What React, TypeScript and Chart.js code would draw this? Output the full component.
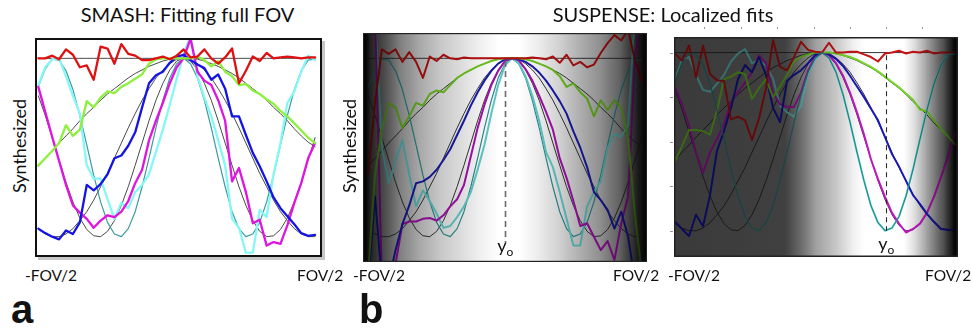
import React, { useEffect, useRef } from 'react';
import { Chart, registerables } from 'chart.js';

Chart.register(...registerables);

// Position across the field of view (FOV units, 0 = peak of the harmonics)
const xs = [-0.525, -0.5, -0.475, -0.45, -0.425, -0.4, -0.375, -0.35, -0.325, -0.3, -0.275, -0.25, -0.225, -0.2, -0.175, -0.15, -0.125, -0.1, -0.075, -0.05, -0.025, 0, 0.025, 0.05, 0.075, 0.1, 0.125, 0.15, 0.175, 0.2, 0.225, 0.25, 0.275, 0.3, 0.325, 0.35, 0.375, 0.4, 0.425, 0.45, 0.475];

// Target harmonics (thin lines), shared by all panels
const tFlat = [1, 1, 1, 1, 1, 1, 1, 1, 1, 1, 1, 1, 1, 1, 1, 1, 1, 1, 1, 1, 1, 1, 1, 1, 1, 1, 1, 1, 1, 1, 1, 1, 1, 1, 1, 1, 1, 1, 1, 1, 1];
const tBroad = [-0.21, -0.12, -0.04, 0.05, 0.13, 0.21, 0.30, 0.38, 0.45, 0.53, 0.60, 0.66, 0.72, 0.78, 0.83, 0.87, 0.91, 0.94, 0.97, 0.99, 1.00, 1.00, 1.00, 0.99, 0.97, 0.94, 0.91, 0.87, 0.83, 0.78, 0.72, 0.66, 0.60, 0.53, 0.45, 0.38, 0.30, 0.21, 0.13, 0.06, 0.01];
const tK1 = [-0.92, -0.97, -1.00, -1.00, -0.97, -0.91, -0.82, -0.72, -0.59, -0.44, -0.29, -0.12, 0.05, 0.22, 0.38, 0.53, 0.66, 0.78, 0.87, 0.94, 0.99, 1.00, 0.99, 0.94, 0.87, 0.78, 0.66, 0.53, 0.38, 0.22, 0.05, -0.12, -0.29, -0.44, -0.59, -0.72, -0.82, -0.91, -0.97, -1.00, -1.00];
const tK15 = [0.58, 0.36, 0.11, -0.14, -0.39, -0.61, -0.79, -0.92, -0.99, -1.00, -0.94, -0.82, -0.65, -0.44, -0.20, 0.05, 0.30, 0.53, 0.72, 0.87, 0.97, 1.00, 0.97, 0.87, 0.72, 0.53, 0.30, 0.05, -0.20, -0.44, -0.65, -0.82, -0.94, -1.00, -0.99, -0.92, -0.79, -0.61, -0.39, -0.14, 0.11];
const tK2 = [0.68, 0.88, 0.99, 0.98, 0.86, 0.65, 0.36, 0.03, -0.31, -0.61, -0.84, -0.97, -1.00, -0.91, -0.72, -0.44, -0.12, 0.22, 0.53, 0.78, 0.94, 1.00, 0.94, 0.78, 0.53, 0.22, -0.12, -0.44, -0.72, -0.91, -1.00, -0.97, -0.84, -0.61, -0.31, 0.03, 0.36, 0.65, 0.86, 0.98, 0.99];

// Panel a: SMASH, fitting full FOV
const aRed = [1.00, 1.00, 1.03, 0.99, 1.10, 1.04, 0.90, 0.92, 0.76, 1.13, 1.11, 0.94, 1.16, 1.05, 1.03, 0.98, 0.98, 1.00, 1.02, 0.99, 1.03, 1.10, 1.01, 1.02, 1.10, 1.00, 0.94, 1.01, 1.11, 0.72, 0.86, 1.02, 0.97, 1.06, 1.00, 1.01, 1.02, 1.01, 1.00, 1.01, 1.01];
const aGreen = [-0.20, -0.12, -0.04, 0.05, 0.25, 0.13, 0.20, 0.52, 0.45, 0.56, 0.63, 0.61, 0.68, 0.72, 0.77, 0.82, 0.94, 0.99, 1.00, 1.00, 1.00, 1.00, 1.00, 1.02, 0.98, 0.91, 0.97, 0.85, 0.80, 0.70, 0.71, 0.64, 0.60, 0.54, 0.49, 0.41, 0.35, 0.27, 0.19, 0.11, 0.05];
const aBlue = [-0.91, -0.96, -1.00, -1.03, -0.93, -0.97, -0.84, -0.42, -0.48, -0.41, -0.30, -0.12, -0.09, 0.02, 0.17, 0.45, 0.72, 0.81, 0.85, 0.95, 1.02, 1.04, 0.98, 0.93, 0.89, 0.76, 0.82, 0.66, 0.35, 0.35, 0.14, -0.06, -0.21, -0.38, -0.56, -0.68, -0.77, -0.86, -0.96, -0.99, -0.98];
const aMagenta = [0.68, 0.40, 0.12, -0.15, -0.42, -0.65, -0.73, -0.80, -0.90, -0.82, -0.76, -0.78, -0.72, -0.60, -0.40, -0.25, 0.08, 0.30, 0.50, 0.72, 0.90, 1.00, 1.22, 0.85, 0.75, 0.70, 0.53, 0.30, -0.38, -0.23, -0.50, -0.85, -0.81, -1.10, -1.06, -1.08, -0.87, -0.62, -0.40, -0.12, 0.05];
const aCyan = [0.70, 0.90, 0.99, 1.00, 0.80, 0.58, 0.38, -0.20, -0.35, -0.35, -0.58, -0.80, -0.62, -0.68, -0.50, -0.42, -0.30, -0.05, 0.20, 0.48, 0.77, 1.05, 1.25, 0.80, 0.56, 0.35, 0.08, -0.20, -0.80, -0.90, -1.18, -1.18, -0.70, -0.78, -0.30, 0.05, 0.50, 0.63, 0.85, 1.03, 0.98];

// Panel b: SUSPENSE, localized at the centre
const bRed = [-0.30, 0.50, 1.10, 1.05, 1.10, 0.96, 1.07, 0.96, 0.78, 1.02, 0.97, 1.04, 1.00, 0.99, 1.01, 1.00, 1.00, 1.00, 1.00, 1.00, 1.00, 1.00, 1.00, 1.00, 1.01, 1.00, 0.99, 1.02, 0.95, 1.04, 0.92, 0.96, 0.90, 0.93, 1.06, 1.17, 1.26, 1.20, 1.32, 0.98, 0.75];
const bGreen = [-1.40, -0.30, 0.20, 0.50, 0.45, 0.22, 0.35, 0.50, 0.47, 0.60, 0.64, 0.62, 0.70, 0.78, 0.83, 0.87, 0.91, 0.94, 0.97, 0.99, 1.00, 1.00, 1.00, 0.99, 0.97, 0.94, 0.91, 0.87, 0.80, 0.68, 0.72, 0.62, 0.55, 0.35, 0.53, 0.42, 0.53, 0.45, 0.10, -0.75, -1.40];
const bBlue = [-1.50, -0.55, -1.50, -1.50, -1.15, -0.86, -0.65, -0.40, -0.38, -0.33, -0.25, -0.14, -0.02, 0.14, 0.30, 0.47, 0.62, 0.75, 0.86, 0.94, 0.99, 1.00, 0.99, 0.96, 0.91, 0.84, 0.75, 0.64, 0.52, 0.38, 0.18, 0.00, -0.22, -0.50, -0.59, -0.70, -0.91, -0.72, -1.00, -1.50, -1.20];
const bMagenta = [1.50, 1.50, -1.50, -1.50, -1.30, -0.86, -0.83, -0.83, -0.80, -0.79, -0.82, -0.76, -0.66, -0.58, -0.42, -0.10, 0.22, 0.48, 0.70, 0.86, 0.97, 1.00, 0.98, 0.88, 0.75, 0.58, 0.40, 0.20, -0.12, -0.34, -0.60, -0.88, -0.85, -1.00, -1.15, -1.05, -1.26, -0.85, -0.55, 1.00, 1.50];
const bCyan = [1.50, 1.50, 0.00, -0.40, -0.15, 0.08, -0.30, -0.66, -0.48, -0.60, -0.74, -0.90, -0.88, -0.78, -0.66, -0.50, -0.25, 0.03, 0.38, 0.70, 0.92, 1.00, 0.95, 0.80, 0.58, 0.30, -0.05, -0.22, -0.50, -0.80, -1.10, -1.10, -0.66, -0.50, -0.38, 0.00, 0.15, 0.12, 0.25, 1.50, 1.50];

// Panel c: SUSPENSE, localized off-centre
const cRed = [0.99, 0.91, 1.08, 0.72, 1.08, 0.76, 0.69, 0.68, 0.25, 0.28, 0.24, 0.02, 0.26, 0.60, 1.14, 0.84, 0.80, 0.95, 1.12, 1.03, 1.01, 1.00, 1.11, 1.00, 1.00, 1.01, 1.01, 0.98, 0.95, 0.90, 0.99, 1.00, 1.02, 0.99, 1.01, 1.00, 1.02, 0.99, 1.00, 1.00, 1.00];
const cGreen = [-0.22, -0.05, 0.13, 0.13, 0.12, 0.08, 0.35, 0.70, 0.73, 0.78, 0.76, 0.48, 0.60, 0.70, 0.50, 0.62, 0.75, 0.90, 0.95, 0.98, 1.00, 1.00, 1.00, 0.99, 0.97, 0.95, 0.92, 0.88, 0.84, 0.79, 0.73, 0.67, 0.61, 0.54, 0.47, 0.36, 0.34, 0.24, 0.14, 0.06, -0.03];
const cBlue = [-0.90, -0.98, -1.06, -0.82, -0.95, -0.60, -0.10, 0.12, 0.38, 0.70, 0.86, 0.78, 0.95, 0.75, 0.38, 0.22, 0.68, 0.75, 0.80, 0.88, 0.97, 1.00, 0.98, 0.93, 0.85, 0.74, 0.62, 0.50, 0.37, 0.24, 0.05, -0.14, -0.28, -0.44, -0.60, -0.70, -0.81, -0.90, -0.98, -0.99, -0.99];
const cMagenta = [0.61, 0.42, 0.18, -0.12, -0.35, -0.12, 0.03, 0.20, 0.44, 0.56, 0.66, 0.78, 0.97, 0.88, 0.55, 0.42, 0.39, 0.39, 0.55, 0.80, 0.95, 1.00, 0.97, 0.88, 0.74, 0.55, 0.33, 0.08, -0.20, -0.42, -0.62, -0.80, -0.92, -1.02, -0.98, -0.92, -0.80, -0.62, -0.40, -0.18, 0.10];
const cCyan = [0.70, 0.92, 0.95, 0.75, 0.58, 0.56, 0.65, 0.75, 0.90, 0.99, 1.04, 0.88, 0.92, 0.85, 0.71, 0.40, 0.33, 0.28, 0.40, 0.75, 0.92, 1.00, 0.94, 0.78, 0.53, 0.22, -0.12, -0.44, -0.72, -0.91, -1.00, -0.97, -0.84, -0.61, -0.31, 0.03, 0.36, 0.65, 0.86, 0.98, 0.99];

// Localization centres (y_o) and tick values
const bYo = -0.025;
const cYo = 0.229;
const cLeftTicks = [1, 0.5, 0, -0.5, -1];
const cTopTicks = [-0.42, -0.29, -0.161, -0.03, 0.099, 0.229, 0.358];

// Background brightness profiles (fraction across the plot, grey level)
const bStops = [0, 0.025, 0.06, 0.13, 0.2, 0.27, 0.34, 0.41, 0.48, 0.55, 0.62, 0.69, 0.76, 0.835, 0.905, 0.95, 0.985, 1];
const bLevels = [0, 0.13, 0.25, 0.5, 0.66, 0.78, 0.86, 0.94, 1, 1, 0.92, 0.82, 0.69, 0.56, 0.38, 0.19, 0.05, 0];
const cStops = [0, 0.39, 0.44, 0.5, 0.57, 0.63, 0.67, 0.81, 0.845, 0.88, 0.915, 0.95, 0.975, 1];
const cLevels = [0.23, 0.25, 0.4, 0.63, 0.78, 0.94, 1, 1, 0.88, 0.69, 0.5, 0.31, 0.13, 0];

const aColors = { red: '#e01010', green: '#8cf03c', blue: '#1414e6', magenta: '#e014e0', cyan: '#86f6f6', teal: '#3c9c9c', black: '#4a4a4a' };
const bColors = { red: '#b41010', green: '#6cc020', blue: '#1a1aa8', magenta: '#a010a8', cyan: '#60c4c4', teal: '#2a8a8a', black: '#333333' };
const cColors = { red: '#c81414', green: '#78d828', blue: '#1818b8', magenta: '#c018c0', cyan: '#70e0e0', teal: '#2a8a8a', black: '#333333' };

const series = (ys: number[]) => xs.map((x, k) => ({ x, y: ys[k] }));

const gray = (v: number) => {
  const c = Math.round(255 * Math.sqrt(v));
  return `rgb(${c},${c},${c})`;
};

const decorPlugin = {
  id: 'decor',
  beforeDatasetsDraw(chart: any, _a: any, o: any) {
    if (!o || !o.stops) return;
    const { ctx, chartArea: ca } = chart;
    const g = ctx.createLinearGradient(ca.left, 0, ca.right, 0);
    o.stops.forEach((s: number, k: number) => g.addColorStop(s, gray(o.levels[k])));
    ctx.save();
    ctx.fillStyle = g;
    ctx.fillRect(ca.left, ca.top, ca.right - ca.left, ca.bottom - ca.top);
    ctx.restore();
  },
  afterDatasetsDraw(chart: any, _a: any, o: any) {
    if (!o || !o.stops) return;
    const { ctx, chartArea: ca } = chart;
    const g = ctx.createLinearGradient(ca.left, 0, ca.right, 0);
    o.stops.forEach((s: number, k: number) => g.addColorStop(s, `rgba(0,0,0,${(1 - Math.sqrt(o.levels[k])).toFixed(3)})`));
    ctx.save();
    ctx.fillStyle = g;
    ctx.fillRect(ca.left, ca.top, ca.right - ca.left, ca.bottom - ca.top);
    ctx.restore();
  },
  afterDraw(chart: any, _a: any, o: any) {
    if (!o) return;
    const { ctx, chartArea: ca, scales } = chart;
    const xS = scales.x;
    const yS = scales.y;
    ctx.save();
    if (o.yo !== undefined) {
      const px = Math.round(xS.getPixelForValue(o.yo)) + 0.5;
      ctx.strokeStyle = o.dashColor;
      ctx.lineWidth = o.dashWidth;
      ctx.setLineDash(o.dash);
      ctx.beginPath();
      ctx.moveTo(px, yS.getPixelForValue(o.yoTop));
      ctx.lineTo(px, yS.getPixelForValue(o.yoBottom));
      ctx.stroke();
      ctx.setLineDash([]);
      const ly = yS.getPixelForValue(o.yoLabel);
      ctx.fillStyle = '#111';
      ctx.textBaseline = 'alphabetic';
      ctx.textAlign = 'right';
      ctx.font = '18px Lato';
      ctx.fillText('y', px + 1, ly);
      ctx.textAlign = 'left';
      ctx.font = '12px Lato';
      ctx.fillText('o', px + 1, ly + 4);
    }
    if (o.leftTicks) {
      ctx.strokeStyle = '#9a9a9a';
      ctx.lineWidth = 1;
      o.leftTicks.forEach((v: number) => {
        const py = Math.round(yS.getPixelForValue(v)) + 0.5;
        ctx.beginPath();
        ctx.moveTo(ca.left - 4, py);
        ctx.lineTo(ca.left - 1, py);
        ctx.stroke();
      });
    }
    if (o.topTicks) {
      ctx.fillStyle = '#9a9a9a';
      o.topTicks.forEach((v: number) => {
        const px = Math.round(xS.getPixelForValue(v));
        ctx.fillRect(px, ca.top - 10, 1, 2);
      });
    }
    if (o.shadow) {
      ctx.fillStyle = 'rgba(0,0,0,0.22)';
      ctx.fillRect(ca.right, ca.top + 3, 3, ca.bottom - ca.top);
      ctx.fillRect(ca.left + 3, ca.bottom, ca.right - ca.left - 3, 3);
    }
    const bw = o.borderWidth;
    ctx.strokeStyle = o.borderColor;
    ctx.lineWidth = bw;
    ctx.strokeRect(ca.left + bw / 2, ca.top + bw / 2, ca.right - ca.left - bw, ca.bottom - ca.top - bw);
    ctx.restore();
  },
};

function buildDatasets(colored: number[][], colors: any, lw: number, tealOrder: number) {
  const [red, green, blue, magenta, cyan] = colored;
  const line = (ys: number[], color: string, order: number, w: number) => ({ data: series(ys), borderColor: color, borderWidth: w, order });
  const sets = [
    line(tK2, colors.teal, tealOrder, 1.2),
    line(red, colors.red, 0, lw),
    line(green, colors.green, 0, lw),
    line(blue, colors.blue, 0, lw),
    line(magenta, colors.magenta, 0, lw),
    line(cyan, colors.cyan, 0, lw),
    line(tFlat, colors.black, 1, 1),
    line(tBroad, colors.black, 1, 1),
    line(tK1, colors.black, 1, 1),
    line(tK15, colors.black, 1, 1),
  ];
  return sets.map((d) => ({ ...d, pointRadius: 0, fill: false, tension: 0, borderJoinStyle: 'round' as const, borderCapStyle: 'round' as const }));
}

const panels = [
  {
    key: 'a',
    box: { left: 30, top: 33, width: 297, height: 229 },
    padding: { left: 5, top: 5, right: 5, bottom: 5 },
    colored: [aRed, aGreen, aBlue, aMagenta, aCyan],
    colors: aColors,
    lw: 2.3,
    tealOrder: 1,
    x: [-0.537, 0.5],
    y: [-1.228, 1.228],
    decor: { borderColor: '#111', borderWidth: 2, shadow: true },
  },
  {
    key: 'b',
    box: { left: 358, top: 28, width: 294, height: 239 },
    padding: { left: 5, top: 5, right: 5, bottom: 5 },
    colored: [bRed, bGreen, bBlue, bMagenta, bCyan],
    colors: bColors,
    lw: 2,
    tealOrder: 1,
    x: [-0.544, 0.494],
    y: [-1.284, 1.284],
    decor: { stops: bStops, levels: bLevels, yo: bYo, yoTop: 0.97, yoBottom: -1.07, yoLabel: -1.17, dashColor: '#6a6a6a', dashWidth: 1.6, dash: [6, 4], borderColor: '#222', borderWidth: 1.2 },
  },
  {
    key: 'c',
    box: { left: 666, top: 22, width: 297, height: 240 },
    padding: { left: 8, top: 15, right: 5, bottom: 5 },
    colored: [cRed, cGreen, cBlue, cMagenta, cCyan],
    colors: cColors,
    lw: 2,
    tealOrder: -1,
    x: [-0.5286, 0.4857],
    y: [-1.295, 1.175],
    decor: { stops: cStops, levels: cLevels, yo: cYo, yoTop: 0.97, yoBottom: -1.0, yoLabel: -1.22, dashColor: '#2a2a2a', dashWidth: 1.1, dash: [5, 4], borderColor: '#222', borderWidth: 1.5, leftTicks: cLeftTicks, topTicks: cTopTicks },
  },
];

const textBase: React.CSSProperties = { position: 'absolute', fontFamily: 'Lato, "Open Sans", sans-serif', color: '#111', lineHeight: 1, whiteSpace: 'nowrap' };

export default function App() {
  const refs = [useRef<HTMLCanvasElement>(null), useRef<HTMLCanvasElement>(null), useRef<HTMLCanvasElement>(null)];

  useEffect(() => {
    const charts = panels.map((p, k) => {
      const canvas = refs[k].current as HTMLCanvasElement;
      return new Chart(canvas, {
        type: 'line',
        data: { datasets: buildDatasets(p.colored, p.colors, p.lw, p.tealOrder) as any },
        options: {
          animation: false,
          responsive: false,
          maintainAspectRatio: false,
          layout: { padding: p.padding },
          scales: {
            x: { type: 'linear', display: false, min: p.x[0], max: p.x[1] },
            y: { type: 'linear', display: false, min: p.y[0], max: p.y[1] },
          },
          plugins: { legend: { display: false }, tooltip: { enabled: false }, decor: p.decor } as any,
          elements: { point: { radius: 0 } },
        },
        plugins: [decorPlugin as any],
      });
    });
    return () => charts.forEach((c) => c.destroy());
  }, []);

  return (
    <div style={{ position: 'absolute', left: 0, top: 0, width: 972, height: 328, background: '#fff', overflow: 'hidden' }}>
      {panels.map((p, k) => (
        <canvas
          key={p.key}
          ref={refs[k]}
          width={p.box.width}
          height={p.box.height}
          style={{ position: 'absolute', left: p.box.left, top: p.box.top, width: p.box.width, height: p.box.height }}
        />
      ))}
      <div style={{ ...textBase, left: 0, width: 375, top: 4, fontSize: 20, textAlign: 'center' }}>SMASH: Fitting full FOV</div>
      <div style={{ ...textBase, left: 463, width: 400, top: 4, fontSize: 20, textAlign: 'center' }}>SUSPENSE: Localized fits</div>
      <div style={{ ...textBase, left: 18.5, top: 146, fontSize: 18, transform: 'translate(-50%, -50%) rotate(-90deg)' }}>Synthesized</div>
      <div style={{ ...textBase, left: 348.5, top: 146, fontSize: 18, transform: 'translate(-50%, -50%) rotate(-90deg)' }}>Synthesized</div>
      <div style={{ ...textBase, left: 25, top: 268, fontSize: 15.5 }}>-FOV/2</div>
      <div style={{ ...textBase, left: 297, top: 268, fontSize: 15.5 }}>FOV/2</div>
      <div style={{ ...textBase, left: 353, top: 268, fontSize: 15.5 }}>-FOV/2</div>
      <div style={{ ...textBase, left: 613, top: 268, fontSize: 15.5 }}>FOV/2</div>
      <div style={{ ...textBase, left: 668, top: 268, fontSize: 15.5 }}>-FOV/2</div>
      <div style={{ ...textBase, left: 925, top: 268, fontSize: 15.5 }}>FOV/2</div>
      <div style={{ ...textBase, left: 11, top: 289, fontSize: 40, fontWeight: 700, fontFamily: '"Liberation Sans", Arial, sans-serif' }}>a</div>
      <div style={{ ...textBase, left: 359, top: 289, fontSize: 40, fontWeight: 700, fontFamily: '"Liberation Sans", Arial, sans-serif' }}>b</div>
    </div>
  );
}
